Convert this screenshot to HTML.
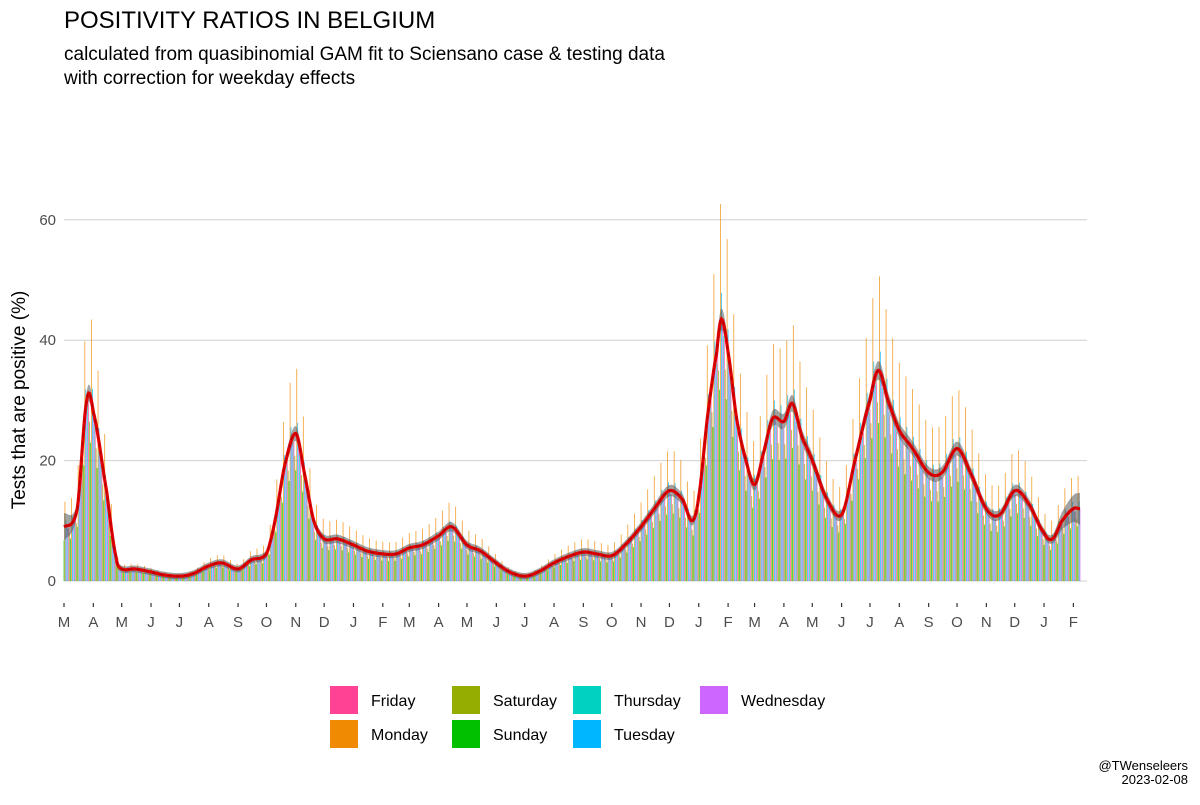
<!DOCTYPE html>
<html><head><meta charset="utf-8"><style>
body{margin:0;background:#fff;font-family:"Liberation Sans",sans-serif;}
svg text{font-family:"Liberation Sans",sans-serif;}
</style></head><body>
<svg id="c" width="1200" height="800" xmlns="http://www.w3.org/2000/svg">
<text x="64" y="28" font-size="24" fill="#000">POSITIVITY RATIOS IN BELGIUM</text>
<text x="64" y="60" font-size="19" fill="#000">calculated from quasibinomial GAM fit to Sciensano case &amp; testing data</text>
<text x="64" y="84" font-size="19" fill="#000">with correction for weekday effects</text>
<text transform="translate(25,400) rotate(-90)" text-anchor="middle" font-size="19" fill="#000">Tests that are positive (%)</text>
<g id="grid"></g><g id="bars"></g><g id="fit"></g><g id="axes"></g><g id="legend"></g>
<text x="1188" y="770" text-anchor="end" font-size="13" fill="#000">@TWenseleers</text>
<text x="1188" y="784" text-anchor="end" font-size="13" fill="#000">2023-02-08</text>
</svg>
<script>
const fitDates=["2020-03-01","2020-03-15","2020-03-25","2020-04-01","2020-04-15","2020-04-25","2020-05-01","2020-05-15","2020-06-01","2020-06-15","2020-07-01","2020-07-15","2020-08-01","2020-08-15","2020-09-01","2020-09-15","2020-10-01","2020-10-10","2020-10-20","2020-11-01","2020-11-10","2020-11-20","2020-12-01","2020-12-15","2021-01-01","2021-01-15","2021-02-01","2021-02-15","2021-03-01","2021-03-15","2021-04-01","2021-04-15","2021-05-01","2021-05-15","2021-06-01","2021-06-15","2021-07-01","2021-07-15","2021-08-01","2021-08-15","2021-09-01","2021-09-15","2021-10-01","2021-10-15","2021-11-01","2021-11-15","2021-12-01","2021-12-15","2021-12-25","2022-01-01","2022-01-10","2022-01-20","2022-01-25","2022-02-01","2022-02-10","2022-02-20","2022-03-01","2022-03-10","2022-03-20","2022-04-01","2022-04-10","2022-04-20","2022-05-01","2022-05-15","2022-06-01","2022-06-15","2022-07-01","2022-07-10","2022-07-20","2022-08-01","2022-08-15","2022-09-01","2022-09-15","2022-10-01","2022-10-15","2022-11-01","2022-11-15","2022-12-01","2022-12-15","2023-01-01","2023-01-10","2023-01-20","2023-02-01","2023-02-08"];
const fitValues=[9,12,30,28,15,4,2,2,1.5,1,0.8,1.2,2.5,3,2,3.5,4.5,10,19,24.5,18,10,7,7,6,5,4.5,4.5,5.5,6,7.5,9,6,5,3,1.5,0.8,1.5,3,4,4.8,4.5,4.2,6,9,12,15,13.5,10,14,27,38,43.5,38,27,20,16,21,27,26.5,29.5,24,20,14,11,20,30,35,30,25,22,18,18,22,18,12,11,15,13,8,7,10,12,12];
const weekdayNames=["Friday","Monday","Saturday","Sunday","Thursday","Tuesday","Wednesday"];
const weekdayColors=["#FF4293","#F08A00","#94AD00","#00C000","#00D2C2","#00B7FF","#CC66FF"];
const dowFactor=[0.75,1.45,1.1,1.0,0.95,0.95,0.85];
const monthLabels=["M","A","M","J","J","A","S","O","N","D","J","F","M","A","M","J","J","A","S","O","N","D","J","F","M","A","M","J","J","A","S","O","N","D","J","F"];
const yTicks=[0,20,40,60];
const NS="http://www.w3.org/2000/svg";
const t0=Date.UTC(2020,2,1),DAY=864e5,nDays=Math.round((Date.UTC(2023,1,8)-t0)/DAY);
const x0=64,x1=1080,y0=581,ppu=6.02;
const X=d=>x0+d*(x1-x0)/nDays, Y=v=>y0-v*ppu;
const di=s=>(Date.parse(s+"T00:00:00Z")-t0)/DAY;
const fd=fitDates.map(di);
function trend(d){for(let i=0;i<fd.length-1;i++){if(d<=fd[i+1]){const a=fd[i],b=fd[i+1],t=(d-a)/(b-a),p0=fitValues[Math.max(i-1,0)],p1=fitValues[i],p2=fitValues[i+1],p3=fitValues[Math.min(i+2,fd.length-1)];const v=0.5*(2*p1+(-p0+p2)*t+(2*p0-5*p1+4*p2-p3)*t*t+(-p0+3*p1-3*p2+p3)*t*t*t);return Math.max(v,0.3);}}return fitValues[fitValues.length-1];}
function mk(tag,attrs,parent){const e=document.createElementNS(NS,tag);for(const k in attrs)e.setAttribute(k,attrs[k]);parent.appendChild(e);return e;}
const grid=document.getElementById('grid');
yTicks.forEach(v=>{const l=mk('line',{x1:64,x2:1087,y1:Y(v),y2:Y(v),stroke:'#d0d0d0','stroke-width':1},grid);


const t=mk('text',{x:56,y:Y(v)+5,'text-anchor':'end','font-size':15,fill:'#4d4d4d'},grid);t.textContent=v;

});
const dowToSeries=[3,1,5,6,4,0,2];
const bars=document.getElementById('bars');
const bw=(x1-x0)/nDays*0.9;
for(let d=0;d<=nDays;d++){const dow=new Date(t0+d*DAY).getUTCDay();const s=dowToSeries[dow];const v=trend(d)*dowFactor[dow];
const r=mk('rect',{x:X(d)-bw/2,y:Y(v),width:bw,height:v*ppu,fill:weekdayColors[s],opacity:0.78},bars);

}
const fit=document.getElementById('fit');
let up=[],lo=[],ln=[];
for(let d=0;d<=nDays;d+=1){const v=trend(d);const w=0.5+v*0.03+(d<15?1.5*(15-d)/15:0)+(d>nDays-30?1.8*(d-nDays+30)/30:0);up.push(X(d)+','+Y(v+w));lo.unshift(X(d)+','+Y(Math.max(v-w,0)));ln.push(X(d)+','+Y(v));}
const rib=mk('polygon',{points:up.concat(lo).join(' '),fill:'#555',opacity:0.55},fit);


const l1=mk('polyline',{points:ln.join(' '),fill:'none',stroke:'#e00000','stroke-width':3.2},fit);


const l2=mk('polyline',{points:ln.join(' '),fill:'none',stroke:'#8b0000','stroke-width':1,'stroke-dasharray':'4 4',opacity:0.6},fit);


const axes=document.getElementById('axes');
monthLabels.forEach((m,i)=>{const d=(Date.UTC(2020,2+i,1)-t0)/DAY;const x=X(d);
const tk=mk('line',{x1:x,x2:x,y1:603,y2:607,stroke:'#333','stroke-width':1.2},axes);


const t=mk('text',{x:x,y:627,'text-anchor':'middle','font-size':15,fill:'#4d4d4d'},axes);t.textContent=m;

});
const legend=document.getElementById('legend');
const lpos=[[330,686],[330,720],[452,686],[452,720],[573,686],[573,720],[700,686]];
weekdayNames.forEach((n,i)=>{const [x,y]=lpos[i];
const g=mk('g',{},legend);


mk('rect',{x:x,y:y,width:28,height:28,fill:weekdayColors[i]},g);
const t=mk('text',{x:x+41,y:y+20,'font-size':16,fill:'#000'},g);t.textContent=n;});
</script>
</body></html>
